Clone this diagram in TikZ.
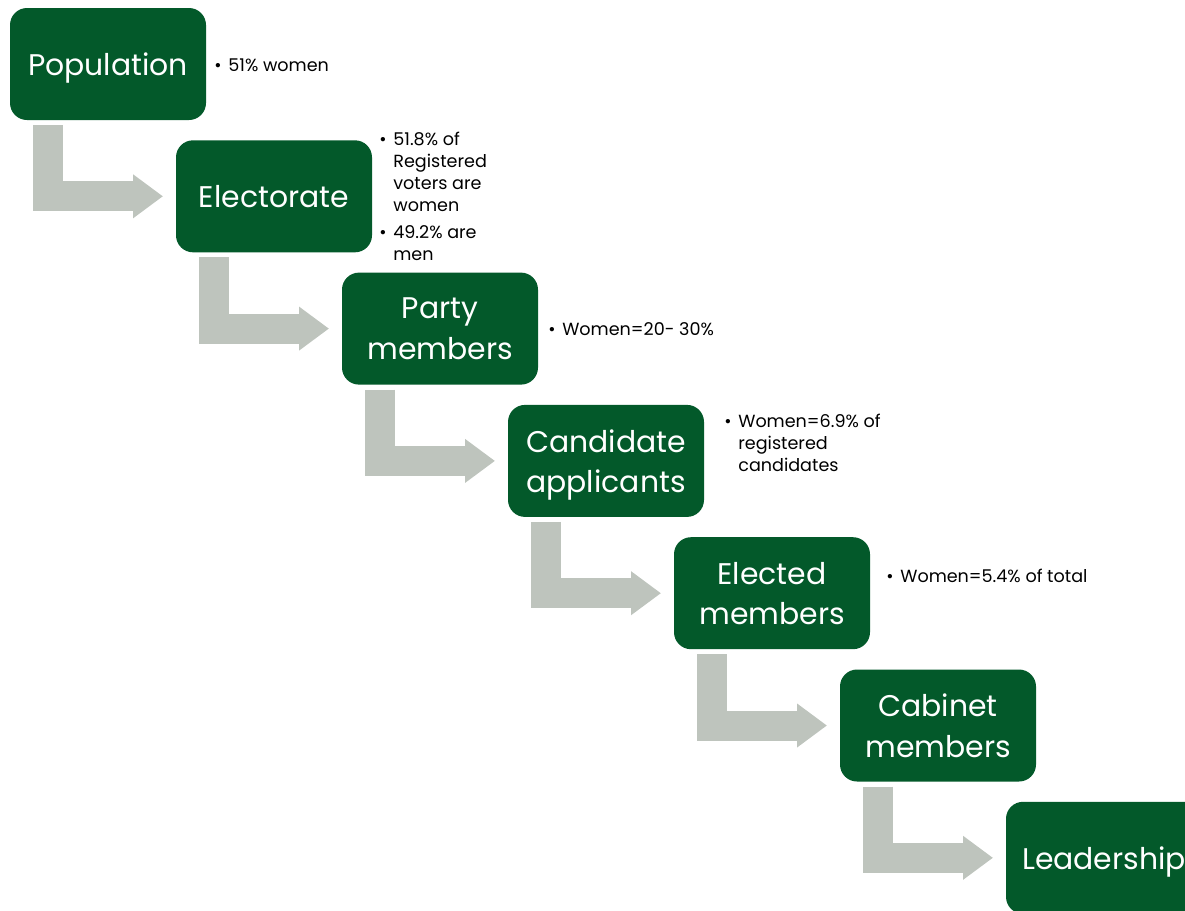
\documentclass[tikz,border=0pt]{standalone}
\usepackage{fontspec}
\setmainfont{Poppins}
\usetikzlibrary{arrows.meta}
\definecolor{boxgreen}{RGB}{3,89,42}
\definecolor{arrowgray}{RGB}{190,196,189}
\newcommand{\bul}{\makebox[0.28cm][l]{\textbullet}}
\begin{document}
\begin{tikzpicture}[
  stage/.style={fill=boxgreen, text=white, rounded corners=0.34cm, minimum width=3.92cm, minimum height=2.24cm, align=center, outer sep=0pt, inner sep=2pt, text depth=0pt, font=\fontsize{17}{23}\selectfont},
  note/.style={anchor=base west, inner sep=0pt, font=\fontsize{10}{12.5}\selectfont},
  flow/.style={draw=arrowgray, line width=0.6cm, -{Triangle[length=0.6cm,width=0.84cm]}, shorten >=0.26cm}
]
  \useasboundingbox (0,0) rectangle (23.7,-18.2);
  % the steps, one below the other
  \node[stage] (pop) at (2.16,-1.28) {Population};
  \node[stage] (elec) at (5.48,-3.926) {Electorate};
  \node[stage] (party) at (8.80,-6.572) {Party\\members};
  \node[stage] (cand) at (12.12,-9.218) {Candidate\\applicants};
  \node[stage] (elect) at (15.44,-11.864) {Elected\\members};
  \node[stage] (cab) at (18.76,-14.51) {Cabinet\\members};
  \node[stage] (lead) at (22.08,-17.156) {Leadership};
  % bent arrows
  \draw[flow] ([xshift=0.75cm,yshift=-0.1cm]pop.south west) |- (elec.west);
  \draw[flow] ([xshift=0.75cm,yshift=-0.1cm]elec.south west) |- (party.west);
  \draw[flow] ([xshift=0.75cm,yshift=-0.1cm]party.south west) |- (cand.west);
  \draw[flow] ([xshift=0.75cm,yshift=-0.1cm]cand.south west) |- (elect.west);
  \draw[flow] ([xshift=0.75cm,yshift=-0.1cm]elect.south west) |- (cab.west);
  \draw[flow] ([xshift=0.75cm,yshift=-0.1cm]cab.south west) |- (lead.west);
  % notes
  \node[note] (popnote) at ([xshift=0.16cm,yshift=-1.26cm]pop.north east) {\bul 51\% women};
  \node[note] (elecnote) at ([xshift=0.14cm,yshift=-0.1cm]elec.north east) {\begin{tabular}[t]{@{}l@{}l@{}}\bul&51.8\% of\\&Registered\\&voters are\\&women\\[0.1cm]\bul&49.2\% are\\&men\end{tabular}};
  \node[note] (partynote) at ([xshift=0.2cm,yshift=-1.26cm]party.north east) {\bul Women=20- 30\%};
  \node[note] (candnote) at ([xshift=0.4cm,yshift=-0.46cm]cand.north east) {\begin{tabular}[t]{@{}l@{}l@{}}\bul&Women=6.9\% of\\&registered\\&candidates\end{tabular}};
  \node[note] (electnote) at ([xshift=0.32cm,yshift=-0.9cm]elect.north east) {\bul Women=5.4\% of total};
\end{tikzpicture}
\end{document}
